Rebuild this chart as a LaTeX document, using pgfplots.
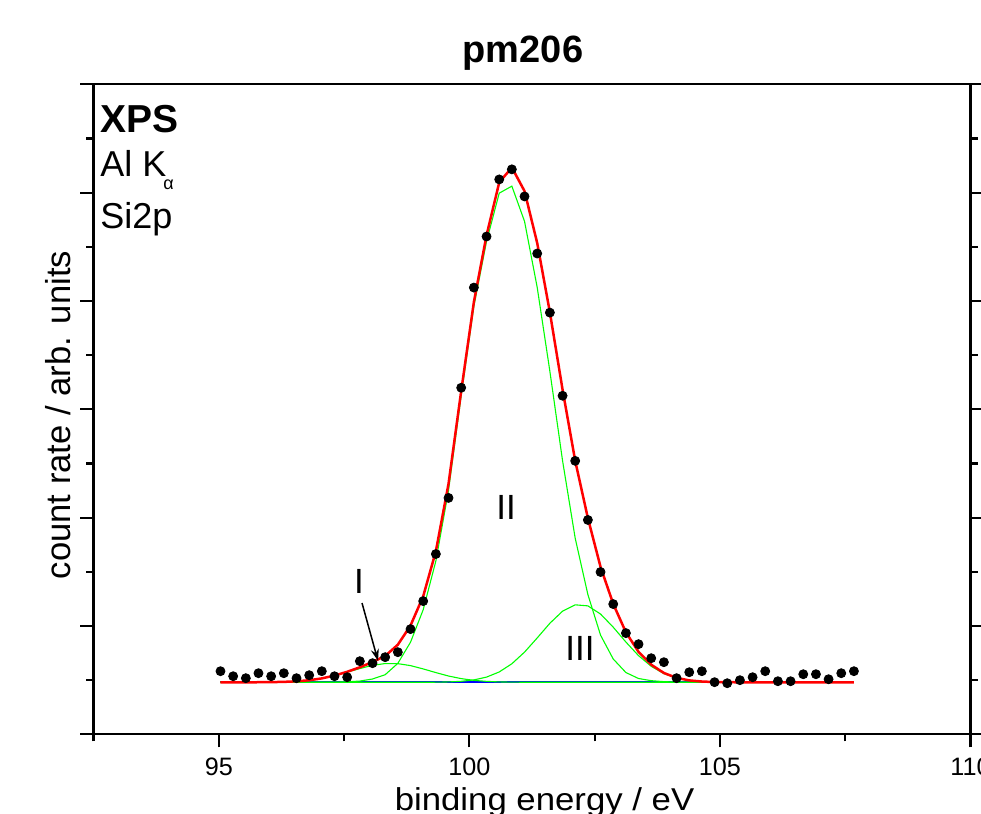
\documentclass[border=0pt]{standalone}
\usepackage{fontspec}
\setmainfont{Liberation Sans}
\usepackage{pgfplots}
\pgfplotsset{compat=1.18}
\usetikzlibrary{arrows.meta}
\definecolor{fitred}{rgb}{1,0,0}
\definecolor{compgreen}{rgb}{0,1,0}
\definecolor{bgblue}{rgb}{0,0,1}

\begin{document}
\begin{tikzpicture}
\begin{axis}[
  name=ax, at={(0,0)}, anchor=south west,
  scale only axis, width=438.5pt, height=325pt,
  xmin=92.5, xmax=110, ymin=0, ymax=12,
  clip=false,
  axis line style={line width=1.1pt},
  every tick/.style={black, line width=1.1pt},
  tick align=outside,
  xtick pos=bottom, ytick pos=both,
  xtick={95,100,105,110},
  minor xtick={92.5,97.5,102.5,107.5},
  ytick={0,2,4,6,8,10,12},
  minor ytick={1,3,5,7,9,11},
  yticklabels={},
  major tick length=6.5pt, minor tick length=3.5pt,
  /pgf/number format/assume math mode=true,
  xticklabel style={font=\fontsize{12.6}{14}\selectfont, anchor=base, yshift=-13.9pt, inner sep=0pt},
]
% background
\addplot[bgblue, line width=0.8pt] coordinates {(95.034,0.960) (107.674,0.960)};
% component I
\addplot[compgreen, line width=0.55pt] coordinates {
(95.034,0.960) (95.287,0.960) (95.540,0.960) (95.792,0.961) (96.045,0.963)
(96.298,0.968) (96.551,0.978) (96.804,0.998) (97.056,1.032) (97.309,1.082)
(97.562,1.146) (97.815,1.214) (98.068,1.273) (98.320,1.306) (98.573,1.304)
(98.826,1.268) (99.079,1.207) (99.332,1.139) (99.584,1.076) (99.837,1.028)
(100.090,0.996) (100.343,0.977) (100.596,0.967) (100.848,0.963) (101.101,0.961)
(101.354,0.960) (107.674,0.960)};
% component II
\addplot[compgreen, line width=0.55pt] coordinates {
(95.034,0.960) (97.056,0.960) (97.309,0.962)
(97.562,0.968) (97.815,0.983) (98.068,1.021) (98.320,1.100) (98.573,1.310)
(98.826,1.700) (99.079,2.300) (99.332,3.200) (99.584,4.500) (99.837,6.250)
(100.090,7.900) (100.343,9.100) (100.596,9.990) (100.848,10.120) (101.101,9.470)
(101.354,8.250) (101.607,6.700) (101.860,5.050) (102.112,3.620) (102.365,2.580)
(102.618,1.830) (102.871,1.390) (103.124,1.140) (103.376,1.030) (103.629,0.990)
(103.882,0.972) (104.135,0.964) (104.388,0.960) (107.674,0.960)};
% component III
\addplot[compgreen, line width=0.55pt] coordinates {
(95.034,0.960) (99.079,0.960) (99.332,0.962) (99.584,0.967) (99.837,0.978)
(100.090,1.004) (100.343,1.056) (100.596,1.151) (100.848,1.302) (101.101,1.517)
(101.354,1.779) (101.607,2.050) (101.860,2.273) (102.112,2.390) (102.365,2.371)
(102.618,2.220) (102.871,1.977) (103.124,1.703) (103.376,1.452) (103.629,1.255)
(103.882,1.120) (104.135,1.038) (104.388,0.995) (104.640,0.974) (104.893,0.965)
(105.146,0.962) (105.399,0.960) (107.674,0.960)};
% envelope
\addplot[fitred, line width=1.25pt, line join=round] coordinates {
(95.034,0.960) (95.287,0.960) (95.540,0.960) (95.792,0.961) (96.045,0.963)
(96.298,0.968) (96.551,0.978) (96.804,0.998) (97.056,1.032) (97.309,1.084)
(97.562,1.154) (97.815,1.237) (98.068,1.334) (98.320,1.446) (98.573,1.654)
(98.826,2.008) (99.079,2.548) (99.332,3.381) (99.584,4.623) (99.837,6.336)
(100.090,7.980) (100.343,9.213) (100.596,10.188) (100.848,10.465) (101.101,10.028)
(101.354,9.069) (101.607,7.790) (101.860,6.363) (102.112,5.050) (102.365,3.991)
(102.618,3.090) (102.871,2.407) (103.124,1.883) (103.376,1.522) (103.629,1.285)
(103.882,1.132) (104.135,1.042) (104.388,0.995) (104.640,0.974) (104.893,0.965)
(105.146,0.962) (105.399,0.960) (107.674,0.960)};
% measured data
\addplot[only marks, mark=*, mark size=2.25pt, black, mark options={fill=black}] table {
x y
95.034 1.165
95.287 1.072
95.540 1.036
95.792 1.128
96.045 1.072
96.298 1.128
96.551 1.036
96.804 1.091
97.056 1.165
97.309 1.072
97.562 1.054
97.815 1.350
98.068 1.313
98.320 1.424
98.573 1.516
98.826 1.942
99.079 2.459
99.332 3.328
99.584 4.364
99.837 6.398
100.090 8.247
100.343 9.190
100.596 10.244
100.848 10.430
101.101 9.930
101.354 8.876
101.607 7.785
101.860 6.250
102.112 5.048
102.365 3.957
102.618 2.996
102.871 2.404
103.124 1.868
103.376 1.664
103.629 1.405
103.882 1.331
104.135 1.036
104.388 1.146
104.640 1.165
104.893 0.962
105.146 0.943
105.399 0.999
105.652 1.054
105.904 1.165
106.157 0.980
106.410 0.980
106.663 1.109
106.916 1.109
107.168 1.017
107.421 1.128
107.674 1.165
};
% annotations
\node[font=\fontsize{17.5}{20}\selectfont, inner sep=0pt] at (axis cs:97.798,2.83) {I};
\node[font=\fontsize{17.5}{20}\selectfont, inner sep=0pt] at (axis cs:100.732,4.196) {II};
\node[font=\fontsize{17.5}{20}\selectfont, inner sep=0pt] at (axis cs:102.209,1.593) {III};
\draw[black, line width=0.75pt, -{Stealth[length=6pt,width=4pt]}] (axis cs:97.858,2.424) -- (axis cs:98.178,1.353);
\node[anchor=base west, inner sep=0pt, font=\bfseries\fontsize{19.5}{22}\selectfont] at (axis description cs:0.0074,0.9266) {XPS};
\node[anchor=base west, inner sep=0pt, font=\fontsize{18}{21}\selectfont] at (axis description cs:0.0074,0.8574) {Al K\hspace{-1.5pt}\raisebox{-6.5pt}{\fontsize{9}{10}\selectfont α}};
\node[anchor=base west, inner sep=0pt, font=\fontsize{18}{21}\selectfont] at (axis description cs:0.0074,0.7789) {Si2p};
\node[font=\bfseries\fontsize{19}{22}\selectfont, inner sep=0pt] at (axis description cs:0.4897,1.0482) {pm206};
\node[anchor=base, inner sep=0pt, xscale=1.10, font=\fontsize{15.8}{18}\selectfont] at (axis description cs:0.5143,-0.1175) {binding energy / eV};
\node[anchor=base, rotate=90, inner sep=0pt, font=\fontsize{17.3}{20}\selectfont] at (axis description cs:-0.0257,0.4912) {count rate / arb. units};
\end{axis}
\pgfresetboundingbox
\path[use as bounding box] ([shift={(-46.75pt,-39.85pt)}]ax.south west) rectangle ([shift={(443.75pt,367.15pt)}]ax.south west);
\end{tikzpicture}
\end{document}
